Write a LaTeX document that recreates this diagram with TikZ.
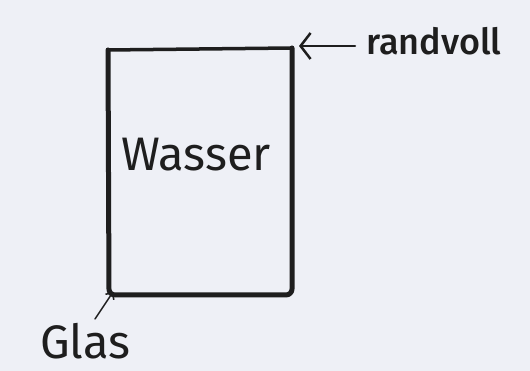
\documentclass[tikz,border=0pt]{standalone}
\usepackage{fontspec}
\setmainfont{Fira Sans}
\newfontfamily\medfont{Fira Sans}[UprightFont={* Medium}]
\usetikzlibrary{arrows.meta}
\definecolor{paper}{HTML}{EEF0F6}
\definecolor{ink}{HTML}{1E1E1E}
\tikzset{
  glass/.style={draw=ink, line width=5pt, line join=round, line cap=round},
  lbl/.style={text=ink, inner sep=0pt, anchor=base west},
  pointer/.style={draw=ink, line width=2.5pt, line cap=round, -{Straight Barb[length=10pt,width=26pt,line width=2.5pt]}}
}
\begin{document}
\begin{tikzpicture}[x=1pt,y=1pt]
\fill[paper] (0,0) rectangle (530,371);
\useasboundingbox (0,0) rectangle (530,371);
% glass corners
\coordinate (tl) at (108,321);
\coordinate (tr) at (292,323);
\coordinate (br) at (292,76);
\coordinate (bl) at (109,76);
\draw[glass, line width=3.5pt] (tl) -- (tr);
\draw[glass, rounded corners=6pt] (tr) -- (br) -- (bl) -- (tl);
\node[lbl, font=\fontsize{47}{54}\selectfont] (wasser) at (121,200) {Wasser};
\node[lbl, font=\medfont\fontsize{36}{42}\selectfont] (randvoll) at (366,316) {randvoll};
\node[lbl, font=\fontsize{47}{54}\selectfont] (glas) at (40,12) {Glas};
\coordinate (rv) at (355,325);
\coordinate (rt) at (299,325);
\coordinate (gs) at (95,52);
\coordinate (gt) at (113,79);
\draw[pointer] (rv) -- (rt);
\draw[pointer, line width=1.5pt, -{Straight Barb[length=5pt,width=10pt,line width=1.5pt]}] (gs) -- (gt);
\end{tikzpicture}
\end{document}
